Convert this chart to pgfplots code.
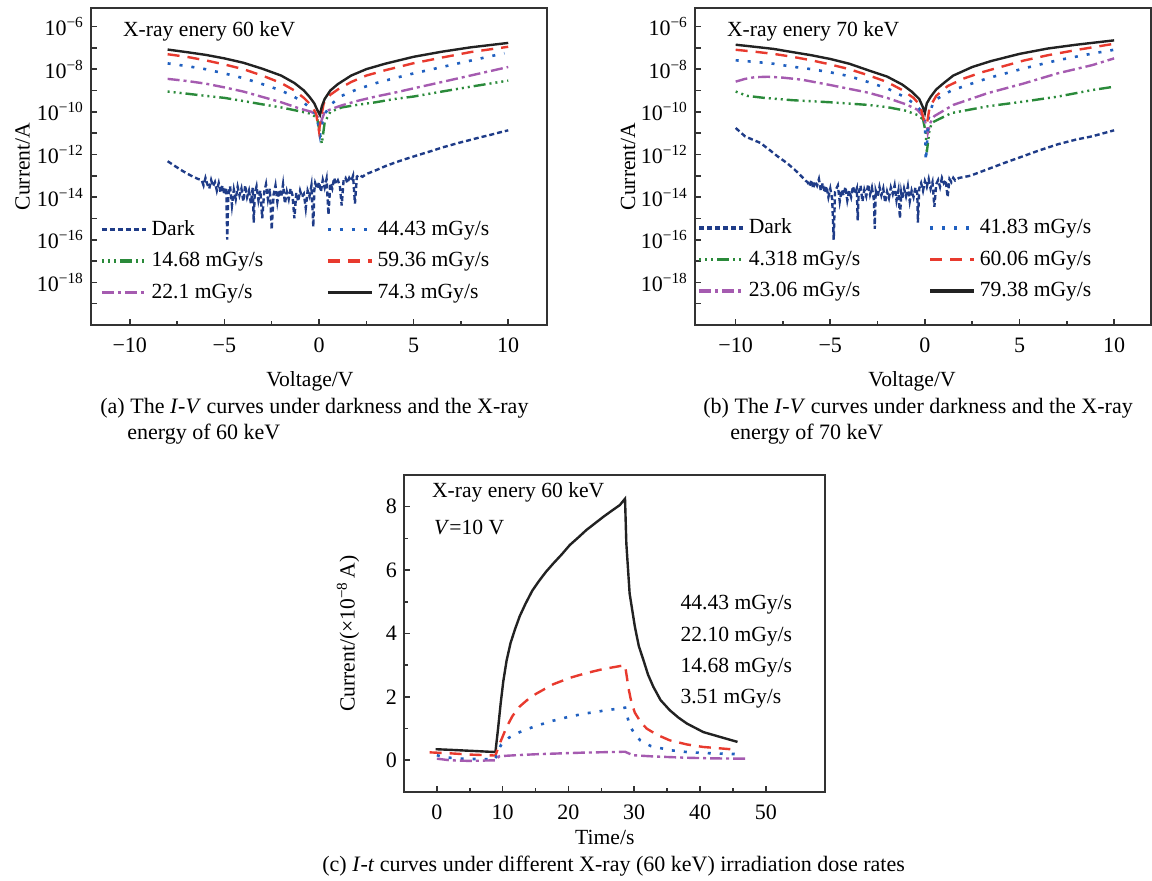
\documentclass[border=0pt]{standalone}
\usepackage{fontspec}
\setmainfont{Liberation Serif}
\usepackage{pgfplots}
\pgfplotsset{compat=1.18}
\definecolor{cdark}{HTML}{1F3C88}
\definecolor{cgreen}{HTML}{2A8A3A}
\definecolor{cpurple}{HTML}{A55BB0}
\definecolor{cblue}{HTML}{2060C0}
\definecolor{cred}{HTML}{E83A2E}
\definecolor{cblack}{HTML}{222222}
\definecolor{cframe}{HTML}{333333}
\newcommand{\axfont}{\fontsize{10.8}{13}\selectfont}
\pgfplotsset{
  myax/.style={
    scale only axis,
    font=\axfont,
    tick label style={font=\fontsize{11}{13}\selectfont},
    xticklabel style={yshift=-3pt},
    axis line style={line width=1.1pt, cframe},
    tick style={cframe, line width=0.8pt},
    tick align=inside,
    xtick pos=bottom, ytick pos=left,
    major tick length=3pt, minor tick length=1.8pt,
  },
  ivax/.style={
    myax,
    width=228pt, height=158.5pt,
    xmin=-12.05, xmax=12.05,
    ymin=1e-20, ymax=7.4e-6,
    xtick={-10,-5,0,5,10},
    xticklabels={−10,−5,0,5,10},
    minor x tick num=1,
    ytick={1e-19,1e-18,1e-17,1e-16,1e-15,1e-14,1e-13,1e-12,1e-11,1e-10,1e-9,1e-8,1e-7,1e-6},
    yticklabels={,10\textsuperscript{−18},,10\textsuperscript{−16},,10\textsuperscript{−14},,10\textsuperscript{−12},,10\textsuperscript{−10},,10\textsuperscript{−8},,10\textsuperscript{−6}},
    ylabel={Current/A},
    xlabel={Voltage/V},
    ylabel style={at={(axis description cs:-0.15,0.5)}, anchor=center},
    xlabel style={at={(axis description cs:0.48,-0.177)}, anchor=center},
    legend columns=3, transpose legend,
    legend cell align=left,
    legend image code/.code={\draw[##1, line width=1.7pt] (0pt,0pt) -- (22pt,0pt);},
    legend style={draw=none, fill=none, font=\axfont,
      row sep=3pt, inner sep=1pt},
  },
  sdark/.style={cdark, line width=1.2pt, dash pattern=on 2.5pt off 1.5pt},
  sgreen/.style={cgreen, line width=1.2pt, dash pattern=on 1pt off 2pt on 1pt off 2pt on 1pt off 2pt on 6pt off 2pt},
  spurple/.style={cpurple, line width=1.2pt, dash pattern=on 6pt off 2pt on 1.5pt off 2pt},
  sblue/.style={cblue, line width=1.3pt, dash pattern=on 1.5pt off 4.5pt},
  sred/.style={cred, line width=1.2pt, dash pattern=on 6pt off 4pt},
  sblack/.style={cblack, line width=1.2pt},
}
\begin{document}
\begin{tikzpicture}
\useasboundingbox (0,0) rectangle (576pt,440.5pt);
% ---------------- panel (a)
\begin{axis}[ymode=log, yminorticks=false, ivax, at={(45.5pt,278pt)}, anchor=south west,
  legend style={at={(axis description cs:0.015,0.35)}, anchor=north west,
    /tikz/every even column/.append style={column sep=29.5pt}}]
\addplot[sdark] coordinates {
(-8,4.8e-13)(-7.6,2.8e-13)(-7.2,1.66e-13)(-6.8,1.05e-13)(-6.4,7.1e-14)
(-6.2,6.3e-14)(-6.1,3.5e-14)(-6.0,7.9e-14)(-5.9,4.0e-14)(-5.8,2.5e-14)(-5.7,6.3e-14)(-5.6,3.2e-14)(-5.5,5.0e-14)(-5.4,2.0e-14)(-5.3,4.5e-14)
(-5.2,1.6e-14)(-5.1,3.5e-14)(-5.0,1.3e-14)(-4.9,2.8e-14)(-4.85,1.0e-16)(-4.8,1.0e-14)(-4.7,3.2e-14)(-4.6,4.0e-15)(-4.5,2.2e-14)(-4.4,8.0e-15)
(-4.3,3.0e-14)(-4.2,1.2e-14)(-4.1,2.5e-14)(-4.0,6.3e-15)(-3.9,3.5e-14)(-3.8,1.0e-14)(-3.7,2.0e-14)(-3.6,5.0e-15)(-3.5,2.8e-14)(-3.45,6.3e-16)
(-3.4,1.4e-14)(-3.3,3.2e-14)(-3.2,7.0e-15)(-3.1,2.0e-14)(-3.0,1.0e-15)(-2.9,1.6e-14)(-2.8,4.0e-14)(-2.7,8.0e-15)(-2.6,2.5e-14)(-2.5,3.0e-16)
(-2.4,1.3e-14)(-2.3,3.5e-14)(-2.2,6.0e-15)(-2.1,2.2e-14)(-2.0,1.0e-14)(-1.9,4.0e-14)(-1.8,5.0e-15)(-1.7,1.8e-14)(-1.6,8.0e-15)(-1.5,2.5e-14)
(-1.4,1.2e-14)(-1.3,1.0e-15)(-1.2,1.6e-14)(-1.1,6.3e-15)(-1.0,2.0e-14)(-0.9,1.0e-14)(-0.8,1.4e-14)(-0.7,3.0e-15)(-0.6,2.0e-14)(-0.5,1.1e-14)
(-0.4,3.5e-14)(-0.3,4.0e-16)(-0.25,2.0e-14)(-0.2,4.5e-14)(-0.1,2.5e-14)(0.0,5.0e-14)(0.1,1.8e-14)(0.2,6.3e-14)(0.3,2.8e-14)(0.4,7.0e-14)
(0.5,1.5e-15)(0.6,4.5e-14)(0.7,2.5e-14)(0.8,7.9e-14)(0.9,4.0e-14)(1.0,6.0e-14)(1.1,3.5e-14)(1.2,4.0e-15)(1.3,6.3e-14)(1.4,8.0e-14)
(1.5,4.5e-14)(1.6,7.9e-14)(1.7,5.6e-14)(1.8,1.0e-13)(1.9,5.0e-15)(2.0,8.9e-14)(2.1,1.1e-13)(2.3,9.0e-14)
(2.5,1.2e-13)(3.0,1.8e-13)(3.5,2.8e-13)(4.0,4.1e-13)(4.5,5.8e-13)(5.0,8.0e-13)(5.5,1.1e-12)(6.0,1.5e-12)(6.5,2.1e-12)(7.0,2.8e-12)
(7.5,3.7e-12)(8.0,4.8e-12)(8.5,6.3e-12)(9.0,8.0e-12)(9.5,1.05e-11)(10.0,1.35e-11)};
\addlegendentry{Dark}
\addplot[sgreen] coordinates {
(-8,8.9e-10)(-7,7.1e-10)(-6,5.6e-10)(-5,4.5e-10)(-4,3.2e-10)(-3,2.24e-10)(-2,1.6e-10)(-1,1.05e-10)(-0.4,8.0e-11)(-0.1,5.0e-11)
(0.15,3.2e-12)(0.3,3.2e-11)(0.6,1.0e-10)(1.2,1.6e-10)(2,2.1e-10)(3,2.8e-10)(4,4.0e-10)(5,5.2e-10)(6.5,8.9e-10)(8,1.5e-9)(10,2.9e-9)};
\addlegendentry{14.68 mGy/s}
\addplot[spurple] coordinates {
(-8,3.5e-9)(-7,2.8e-9)(-6,2.1e-9)(-5,1.4e-9)(-4,8.9e-10)(-3,5.0e-10)(-2,2.8e-10)(-1,1.4e-10)(-0.4,1.0e-10)(-0.1,6.3e-11)
(0.1,3.2e-11)(0.3,1.0e-10)(0.7,1.4e-10)(1.2,2.0e-10)(2,3.2e-10)(3,5.2e-10)(4,7.9e-10)(5,1.26e-9)(6.5,2.5e-9)(8,5.0e-9)(10,1.26e-8)};
\addlegendentry{22.1 mGy/s}
\addplot[sblue] coordinates {
(-8,1.86e-8)(-7,1.4e-8)(-6,1.0e-8)(-5,6.3e-9)(-4,3.8e-9)(-3,2.0e-9)(-2,1.0e-9)(-1.3,5.0e-10)(-0.7,2.24e-10)(-0.3,1.12e-10)
(-0.1,5.0e-11)(0.05,7.9e-12)(0.15,2.5e-11)(0.3,8.0e-11)(0.7,2.5e-10)(1.2,5.6e-10)(2,1.12e-9)(3,2.2e-9)(4,3.8e-9)(5,6.3e-9)(6.5,1.26e-8)(8,2.5e-8)(9.8,5.6e-8)};
\addlegendentry{44.43 mGy/s}
\addplot[sred] coordinates {
(-8,5.0e-8)(-7,3.8e-8)(-6,2.6e-8)(-5,1.66e-8)(-4,1.0e-8)(-3,5.0e-9)(-2,2.24e-9)(-1.3,1.0e-9)(-0.8,4.5e-10)(-0.4,2.0e-10)
(-0.15,8.0e-11)(0.0,1.26e-11)(0.1,5.0e-11)(0.25,2.5e-10)(0.6,6.3e-10)(1.0,1.12e-9)(1.7,2.5e-9)(2.5,5.0e-9)(3.5,8.9e-9)(5,1.9e-8)(6.5,3.5e-8)(8,6.3e-8)(10,1.12e-7)};
\addlegendentry{59.36 mGy/s}
\addplot[sblack] coordinates {
(-8,8.3e-8)(-7,6.3e-8)(-6,4.7e-8)(-5,3.2e-8)(-4,2.0e-8)(-3,1.05e-8)(-2,5.0e-9)(-1.3,2.24e-9)(-0.8,1.0e-9)(-0.5,5.0e-10)
(-0.25,2.5e-10)(-0.1,1.26e-10)(0.05,7.1e-11)(0.15,1.8e-10)(0.3,4.0e-10)(0.6,1.0e-9)(1.0,2.0e-9)(1.7,5.0e-9)(2.5,1.0e-8)(3.5,1.8e-8)(5,3.8e-8)(6.5,6.6e-8)(8,1.05e-7)(10,1.7e-7)};
\addlegendentry{74.3 mGy/s}
\node[anchor=west, font=\axfont] at (axis description cs:0.055,0.925) {X-ray enery 60 keV};
\end{axis}
% ---------------- panel (b)
\begin{axis}[ymode=log, yminorticks=false, ivax, at={(347.5pt,278pt)}, anchor=south west, xmin=-12.15, xmax=11.95,
  xlabel style={at={(axis description cs:0.476,-0.177)}},
  ylabel style={at={(axis description cs:-0.147,0.5)}},
  legend style={at={(axis description cs:0.0,0.355)}, anchor=north west,
    /tikz/every even column/.append style={column sep=32pt}}]
\addplot[sdark] coordinates {
(-10,1.74e-11)(-9.5,7.0e-12)(-9.0,4.5e-12)(-8.7,3.5e-12)(-8.2,1.6e-12)(-7.8,8.3e-13)(-7.3,4.0e-13)(-6.9,2.0e-13)(-6.5,9.0e-14)(-6.3,5.8e-14)
(-6.2,5.0e-14)(-6.1,3.2e-14)(-6.0,6.3e-14)(-5.9,2.5e-14)(-5.8,5.6e-14)(-5.7,3.5e-14)(-5.6,7.0e-14)(-5.5,2.0e-14)(-5.4,4.5e-14)(-5.3,1.6e-14)
(-5.2,3.2e-14)(-5.1,1.0e-14)(-5.0,2.5e-14)(-4.9,8.0e-15)(-4.82,1.0e-16)(-4.75,1.8e-14)(-4.6,3.5e-14)(-4.5,6.3e-15)(-4.4,2.2e-14)(-4.3,1.2e-14)
(-4.2,3.0e-14)(-4.1,7.0e-15)(-4.0,2.0e-14)(-3.9,1.0e-14)(-3.8,3.2e-14)(-3.7,1.4e-14)(-3.6,2.5e-14)(-3.55,8.0e-16)(-3.5,1.6e-14)(-3.4,3.5e-14)
(-3.3,6.3e-15)(-3.2,2.2e-14)(-3.1,1.1e-14)(-3.0,4.0e-14)(-2.9,1.3e-14)(-2.8,2.8e-14)(-2.7,8.0e-15)(-2.65,3.2e-16)(-2.6,2.0e-14)(-2.5,1.0e-14)
(-2.4,3.0e-14)(-2.3,1.2e-14)(-2.2,2.5e-14)(-2.1,5.6e-15)(-2.0,1.8e-14)(-1.9,9.0e-15)(-1.8,2.8e-14)(-1.7,1.4e-14)(-1.6,3.5e-14)(-1.5,7.0e-15)
(-1.4,2.0e-14)(-1.32,1.0e-15)(-1.25,1.5e-14)(-1.2,8.0e-15)(-1.1,2.5e-14)(-1.0,1.1e-14)(-0.9,3.2e-14)(-0.8,6.3e-15)(-0.7,2.0e-14)(-0.6,1.0e-14)
(-0.5,2.8e-14)(-0.4,1.4e-14)(-0.37,6.3e-16)(-0.3,2.5e-14)(-0.2,4.5e-14)(-0.1,2.0e-14)(0.0,5.6e-14)(0.1,3.0e-14)(0.2,7.0e-14)(0.3,2.5e-14)
(0.4,5.0e-14)(0.5,3.5e-15)(0.6,4.0e-14)(0.7,6.3e-14)(0.8,3.0e-14)(0.9,7.9e-14)(1.0,4.5e-14)(1.1,6.3e-14)(1.2,1.0e-14)(1.3,7.0e-14)
(1.4,5.0e-14)(1.5,8.0e-14)(1.6,6.0e-14)(1.8,7.9e-14)(2.0,8.5e-14)(2.4,1.0e-13)
(3.3,2.0e-13)(4.2,4.0e-13)(5.2,8.3e-13)(6.0,1.5e-12)(7.0,2.95e-12)(8.0,5.0e-12)(8.85,7.1e-12)(10,1.35e-11)};
\addlegendentry{Dark}
\addplot[sgreen] coordinates {
(-10,8.9e-10)(-9.4,5.6e-10)(-8.5,4.5e-10)(-7,3.5e-10)(-5,2.8e-10)(-3,2.1e-10)(-2,1.66e-10)(-1,1.12e-10)(-0.4,7.1e-11)(-0.1,4.5e-11)
(0.05,1.0e-11)(0.1,1.26e-12)(0.25,1.6e-11)(0.4,3.2e-11)(1.4,8.7e-11)(3.3,1.8e-10)(5.2,3.0e-10)(7.0,5.1e-10)(8.85,1.05e-9)(10,1.5e-9)};
\addlegendentry{4.318 mGy/s}
\addplot[spurple] coordinates {
(-10,2.6e-9)(-9.5,3.5e-9)(-9,4.2e-9)(-8.3,4.4e-9)(-7.5,4.0e-9)(-6.5,3.2e-9)(-5,1.8e-9)(-3,7.9e-10)(-2,4.5e-10)(-1,2.24e-10)
(-0.4,1.26e-10)(-0.1,6.3e-11)(0.1,2.0e-11)(0.15,1.0e-11)(0.3,3.2e-11)(0.5,6.3e-11)(1.5,2.1e-10)(3.3,7.4e-10)(5.2,2.1e-9)(7.0,6.3e-9)(8.85,1.55e-8)(10,3.2e-8)};
\addlegendentry{23.06 mGy/s}
\addplot[sblue] coordinates {
(-10,2.6e-8)(-9,2.2e-8)(-8,1.8e-8)(-7,1.3e-8)(-6,1.0e-8)(-5,7.1e-9)(-4,4.7e-9)(-3,2.5e-9)(-2,1.26e-9)(-1.2,5.6e-10)
(-0.5,2.24e-10)(-0.15,1.0e-10)(0.0,3.2e-11)(0.05,5.0e-13)(0.2,5.0e-11)(0.45,3.2e-10)(1.4,1.0e-9)(3.3,3.7e-9)(5.2,1.07e-8)(7.0,2.6e-8)(8.85,5.4e-8)(10,8.1e-8)};
\addlegendentry{41.83 mGy/s}
\addplot[sred] coordinates {
(-10,8.1e-8)(-9,6.6e-8)(-8,5.2e-8)(-7,3.8e-8)(-6,2.6e-8)(-5,1.66e-8)(-4,1.0e-8)(-3,5.2e-9)(-2,2.5e-9)(-1.2,1.05e-9)
(-0.6,4.5e-10)(-0.25,2.0e-10)(-0.05,4.0e-11)(0.1,2.5e-11)(0.25,1.6e-10)(0.6,5.6e-10)(1.2,1.6e-9)(2,3.5e-9)(3,7.1e-9)(4,1.26e-8)(5.2,2.5e-8)(6.5,4.5e-8)(8,7.9e-8)(10,1.55e-7)};
\addlegendentry{60.06 mGy/s}
\addplot[sblack] coordinates {
(-10,1.4e-7)(-9,1.12e-7)(-8,8.9e-8)(-7,6.3e-8)(-6,4.5e-8)(-5,3.0e-8)(-4,1.8e-8)(-3,8.9e-9)(-2,4.5e-9)(-1.2,1.9e-9)
(-0.7,8.9e-10)(-0.3,4.0e-10)(-0.1,1.6e-10)(0.0,8.9e-11)(0.1,2.5e-10)(0.3,5.0e-10)(0.6,1.12e-9)(1.0,2.24e-9)(1.5,5.0e-9)(2.5,1.26e-8)(3.5,2.4e-8)(5,5.2e-8)(6.5,9.3e-8)(8,1.4e-7)(10,2.24e-7)};
\addlegendentry{79.38 mGy/s}
\node[anchor=west, font=\axfont] at (axis description cs:0.055,0.925) {X-ray enery 70 keV};
\end{axis}
% ---------------- panel (c)
\begin{axis}[myax, at={(202pt,44.5pt)}, anchor=south west,
  width=210.5pt, height=158.5pt,
  xmin=-5, xmax=59, ymin=-1, ymax=9,
  xtick={0,10,20,30,40,50}, xticklabels={0,10,20,30,40,50},
  minor x tick num=1,
  ytick={0,2,4,6,8}, yticklabels={0,2,4,6,8},
  minor y tick num=1,
  xlabel={Time/s},
  ylabel={Current/(×10\textsuperscript{−8}\,A)},
  ylabel style={at={(axis description cs:-0.133,0.5)}, anchor=center},
  xlabel style={at={(axis description cs:0.477,-0.145)}, anchor=center}]
\addplot[sblack] coordinates {
(-0.2,0.35)(2,0.33)(4,0.31)(6,0.29)(8.9,0.26)(9.3,1.0)(9.7,1.8)(10.1,2.5)(10.6,3.15)(11.2,3.7)
(11.9,4.15)(12.6,4.55)(13.5,4.95)(14.5,5.35)(15.5,5.65)(16.6,5.95)(17.7,6.21)(19,6.5)(20.2,6.79)(21.5,7.03)
(22.7,7.26)(24,7.47)(25.3,7.68)(26.5,7.86)(27.8,8.05)(28.6,8.25)(28.8,6.84)(29.3,5.26)(30.1,4.21)(30.7,3.6)
(31.4,3.16)(32.1,2.7)(32.9,2.32)(34,1.9)(35.4,1.58)(36.7,1.35)(38,1.16)(40.5,0.89)(43,0.74)(45.7,0.58)};
\addplot[sred] coordinates {
(-1.1,0.25)(2,0.22)(5,0.18)(8.9,0.15)(9.5,0.5)(10.6,1.05)(11.5,1.4)(12.6,1.7)(14,1.95)(15.1,2.1)
(17.7,2.4)(20.2,2.6)(22.7,2.75)(25.3,2.88)(28.6,3.0)(28.9,2.6)(29.1,2.3)(29.6,1.8)(30.1,1.5)(31,1.2)
(31.9,1.0)(33.5,0.8)(35.4,0.63)(38,0.5)(40.5,0.42)(44.6,0.35)};
\addplot[sblue] coordinates {
(0,0.16)(1,0.1)(3.5,0.05)(6,0.04)(8.9,0.03)(9.3,0.3)(9.8,0.5)(11,0.72)(12.6,0.89)(15,1.08)
(17.7,1.25)(20.2,1.38)(22.7,1.48)(25.5,1.57)(28.6,1.66)(29.3,1.1)(30,0.85)(30.9,0.63)(32.5,0.45)(35.4,0.32)
(38,0.26)(40.5,0.23)(43,0.21)(46.6,0.19)};
\addplot[spurple] coordinates {
(0,0.05)(2,0.0)(5,-0.02)(8.9,0.0)(9.5,0.13)(12,0.16)(15,0.19)(17.7,0.21)(22,0.24)(28.6,0.27)
(29.8,0.16)(33,0.12)(38,0.08)(42,0.06)(47.1,0.05)};
\node[anchor=west, font=\axfont] at (axis description cs:0.05,0.946) {X-ray enery 60 keV};
\node[anchor=west, font=\axfont] at (axis description cs:0.055,0.836) {\textit{V}=10 V};
\node[anchor=west, font=\axfont] at (axis description cs:0.64,0.59) {44.43 mGy/s};
\node[anchor=west, font=\axfont] at (axis description cs:0.64,0.489) {22.10 mGy/s};
\node[anchor=west, font=\axfont] at (axis description cs:0.64,0.391) {14.68 mGy/s};
\node[anchor=west, font=\axfont] at (axis description cs:0.64,0.293) {3.51 mGy/s};
\end{axis}
% ---------------- captions
\begin{scope}[font=\fontsize{11}{13}\selectfont]
\node[anchor=west, inner sep=0pt] at (50pt,236.5pt) {(a) The \textit{I}-\textit{V} curves under darkness and the X-ray};
\node[anchor=west, inner sep=0pt] at (63.5pt,223.5pt) {energy of 60 keV};
\node[anchor=west, inner sep=0pt] at (351.5pt,236.5pt) {(b) The \textit{I}-\textit{V} curves under darkness and the X-ray};
\node[anchor=west, inner sep=0pt] at (365pt,223.5pt) {energy of 70 keV};
\node[anchor=west, inner sep=0pt] at (161pt,7.5pt) {(c) \textit{I}-\textit{t} curves under different X-ray (60 keV) irradiation dose rates};
\end{scope}
\end{tikzpicture}
\end{document}
